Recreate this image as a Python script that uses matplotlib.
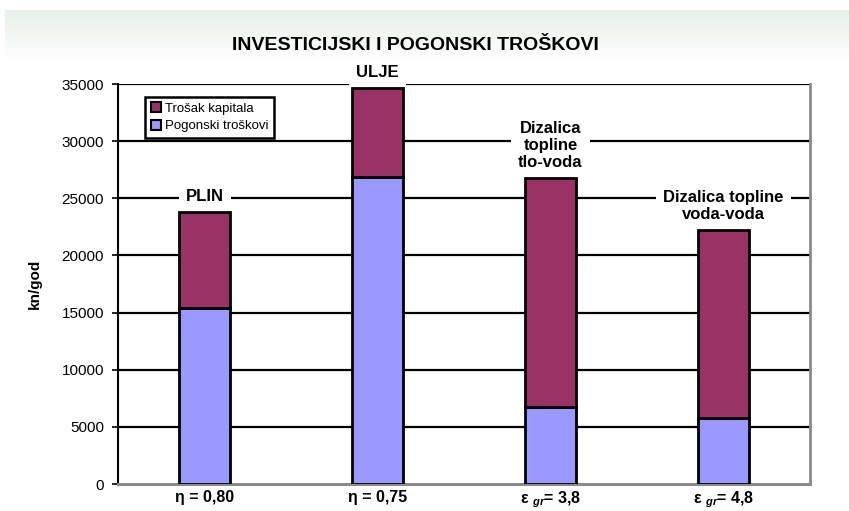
import numpy as np
import matplotlib
matplotlib.use("Agg")
import matplotlib.pyplot as plt
from matplotlib.patches import Patch
from matplotlib import font_manager

names = {f.name for f in font_manager.fontManager.ttflist}
narrow = 'Liberation Sans Narrow' if 'Liberation Sans Narrow' in names else 'Liberation Sans'
plt.rcParams['font.family'] = [narrow, 'DejaVu Sans']
plt.rcParams['mathtext.fontset'] = 'custom'
plt.rcParams['mathtext.it'] = narrow + ':italic:bold'
plt.rcParams['mathtext.rm'] = narrow + ':bold'

categories = ['η = 0,80', 'η = 0,75', r'ε $_{gr}$= 3,8', r'ε $_{gr}$= 4,8']
bar_labels = ['PLIN', 'ULJE', 'Dizalica\ntopline\ntlo-voda', 'Dizalica topline\nvoda-voda']
pogonski = [15400, 26850, 6750, 5750]
kapital_total = [23800, 34650, 26800, 22250]
kapital = [t - p for t, p in zip(kapital_total, pogonski)]
yticks = [0, 5000, 10000, 15000, 20000, 25000, 30000, 35000]

c_kap = '#993366'
c_pog = '#9999FF'

fig = plt.figure(figsize=(8.49, 5.11), dpi=100)
# top gradient band
bg = fig.add_axes([0.006, 1 - 62/511, 0.994, 52/511], zorder=-5)
grad = np.linspace(0, 1, 64).reshape(-1, 1)
cols = np.zeros((64, 1, 3))
top = np.array([0xe9, 0xf0, 0xea]) / 255
cols[:, 0, :] = top[None, :] * (1 - grad) + grad * 1.0
bg.imshow(cols, aspect='auto', extent=[0, 1, 0, 1])
bg.axis('off')

ax = fig.add_axes([118/849, 27/511, 692/849, 400/511])
x = np.arange(len(categories))
w = 0.29
ax.bar(x, pogonski, w, color=c_pog, edgecolor='black', linewidth=2, zorder=3)
ax.bar(x, kapital, w, bottom=pogonski, color=c_kap, edgecolor='black', linewidth=2, zorder=3)

for yv in yticks[1:]:
    ax.axhline(yv, color='black', linewidth=1.6, zorder=1)

ax.set_xlim(-0.5, 3.5)
ax.set_ylim(0, 35000)
ax.set_yticks(yticks)
ax.set_yticklabels([str(v) for v in yticks], fontsize=11)
ax.set_xticks(x)
ax.set_xticklabels(categories, fontsize=11.5, fontweight='bold')
ax.tick_params(axis='x', length=0, pad=4)
ax.tick_params(axis='y', direction='out', length=4, width=1.2, pad=6)

ax.spines['top'].set_visible(False)
ax.spines['left'].set_color('black')
ax.spines['left'].set_linewidth(1.5)
ax.spines['right'].set_color('#8a8a8a')
ax.spines['right'].set_linewidth(2)
ax.spines['bottom'].set_color('#8a8a8a')
ax.spines['bottom'].set_linewidth(2.2)

ax.set_ylabel('kn/god', fontsize=11, fontweight='bold', labelpad=14)

for xi, tot, lab in zip(x, kapital_total, bar_labels):
    ax.text(xi, tot + 700, lab, ha='center', va='bottom', fontsize=12, fontweight='bold',
            linespacing=1.15, zorder=4, clip_on=False,
            bbox=dict(facecolor='white', edgecolor='none', pad=5))

handles = [Patch(facecolor=c_kap, edgecolor='black', linewidth=1.5),
           Patch(facecolor=c_pog, edgecolor='black', linewidth=1.5)]
leg = ax.legend(handles, ['Trošak kapitala', 'Pogonski troškovi'], loc='upper left',
                bbox_to_anchor=(0.03, 0.985), fontsize=9.5, fancybox=False, framealpha=1,
                edgecolor='black', handlelength=0.8, handleheight=0.8, handletextpad=0.3,
                borderpad=0.4, labelspacing=0.4)
leg.get_frame().set_linewidth(1.8)
leg.set_zorder(6)

fig.text(415/849, 1 - 45/511, 'INVESTICIJSKI I POGONSKI TROŠKOVI', ha='center', va='center',
         fontsize=14, fontweight='bold')

fig.savefig('out.png', dpi=100)
